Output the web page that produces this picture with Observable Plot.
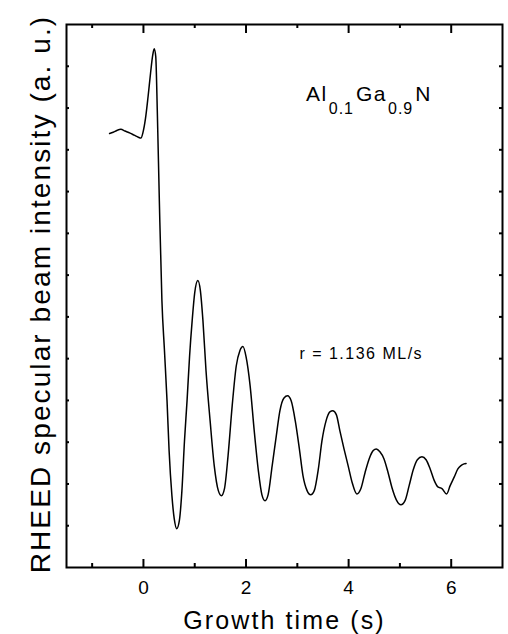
<!DOCTYPE html>
<html>
<head>
<meta charset="utf-8">
<script src="https://cdn.jsdelivr.net/npm/d3@7"></script>
<script src="https://cdn.jsdelivr.net/npm/@observablehq/plot@0.6"></script>
<style>
  html, body { margin: 0; padding: 0; background: #fff; }
</style>
</head>
<body>
<div id="chart"></div>
<script>
// Growth time (s)
const time = [
  -0.66, -0.59, -0.51, -0.44, -0.36, -0.26, -0.18, -0.10, -0.05, -0.01,
  0.04, 0.09, 0.14, 0.18, 0.21, 0.24, 0.27, 0.31, 0.36, 0.41,
  0.46, 0.50, 0.555, 0.60, 0.65, 0.70, 0.75, 0.80, 0.85, 0.90,
  0.95, 1.00, 1.06, 1.11, 1.16, 1.22, 1.30, 1.38, 1.46, 1.52,
  1.58, 1.65, 1.73, 1.81, 1.88, 1.94, 2.00, 2.08, 2.16, 2.24,
  2.31, 2.37, 2.43, 2.51, 2.59, 2.66, 2.74, 2.81, 2.88, 2.96,
  3.04, 3.11, 3.19, 3.26, 3.33, 3.41, 3.48, 3.56, 3.64, 3.69,
  3.76, 3.83, 3.91, 3.99, 4.07, 4.16, 4.24, 4.32, 4.40, 4.48,
  4.54, 4.61, 4.69, 4.77, 4.85, 4.93, 5.02, 5.10, 5.18, 5.26,
  5.34, 5.43, 5.51, 5.59, 5.67, 5.74, 5.82, 5.91, 5.98, 6.06,
  6.13, 6.19, 6.25, 6.29
];
// RHEED specular beam intensity (a. u.)
const intensity = [
  10.39, 10.42, 10.47, 10.49, 10.45, 10.40, 10.35, 10.30, 10.28, 10.41,
  10.75, 11.27, 11.85, 12.26, 12.42, 12.23, 10.94, 8.78, 6.39, 5.19,
  3.99, 2.80, 1.72, 1.17, 0.93, 1.12, 1.84, 3.03, 3.99, 5.07,
  5.91, 6.58, 6.87, 6.63, 5.91, 4.71, 3.51, 2.44, 1.84, 1.72,
  1.89, 2.68, 3.87, 4.83, 5.19, 5.29, 5.05, 4.35, 3.27, 2.32,
  1.74, 1.60, 1.74, 2.44, 3.15, 3.75, 4.06, 4.11, 3.99, 3.51,
  2.84, 2.20, 1.84, 1.74, 1.84, 2.36, 3.03, 3.51, 3.73, 3.75,
  3.66, 3.27, 2.84, 2.44, 2.03, 1.76, 1.89, 2.27, 2.60, 2.80,
  2.84, 2.77, 2.60, 2.27, 1.89, 1.62, 1.50, 1.60, 1.96, 2.34,
  2.58, 2.65, 2.58, 2.36, 2.08, 1.93, 1.89, 1.76, 1.96, 2.17,
  2.36, 2.44, 2.48, 2.49
];

const xMajorTicks = [0, 2, 4, 6];
const xMinorTicks = [-1, 1, 3, 5];
const yTicks = [1, 2, 3, 4, 5, 6, 7, 8, 9, 10, 11, 12];

const xLabel = "Growth time (s)";
const yLabel = "RHEED specular beam intensity (a. u.)";
const sampleLabel = "Al0.1Ga0.9N";
const sampleParts = [
  {text: "Al", sub: false},
  {text: "0.1", sub: true},
  {text: "Ga", sub: false},
  {text: "0.9", sub: true},
  {text: "N", sub: false}
];
const rateLabel = "r = 1.136 ML/s";

const data = time.map((t, i) => ({t, v: intensity[i]}));

const W = 508, H = 634;
const mL = 66, mR = 6, mT = 24, mB = 67;
const plotW = W - mL - mR, plotH = H - mT - mB;
const font = "'Liberation Sans', Arial, Helvetica, sans-serif";

const chart = Plot.plot({
  width: W,
  height: H,
  marginLeft: mL,
  marginRight: mR,
  marginTop: mT,
  marginBottom: mB,
  style: {fontFamily: font, background: "#fff", color: "#000", overflow: "visible"},
  x: {domain: [-1.5, 7]},
  y: {domain: [0, 13], axis: null},
  marks: [
    Plot.tickX(xMajorTicks, {x: d => d, insetTop: plotH - 8, stroke: "#000", strokeWidth: 2}),
    Plot.tickX(xMinorTicks, {x: d => d, insetTop: plotH - 4, stroke: "#000", strokeWidth: 2}),
    Plot.tickX(xMajorTicks, {x: d => d, insetBottom: plotH - 9, stroke: "#000", strokeWidth: 2}),
    Plot.tickX(xMinorTicks, {x: d => d, insetBottom: plotH - 4, stroke: "#000", strokeWidth: 2}),
    Plot.tickY(yTicks, {y: d => d, insetRight: plotW - 3, stroke: "#000", strokeWidth: 2}),
    Plot.tickY(yTicks, {y: d => d, insetLeft: plotW - 3, stroke: "#000", strokeWidth: 2}),
    Plot.axisX({ticks: xMajorTicks, tickSize: 0, tickPadding: 13, fontSize: 19, tickFormat: d => String(d), label: null}),
    Plot.line(data, {x: "t", y: "v", curve: "monotone-x", stroke: "#000", strokeWidth: 1.5}),
    Plot.frame({stroke: "#000", strokeWidth: 2}),
    Plot.text([xLabel], {text: d => d, frameAnchor: "bottom", dy: 61, textAnchor: "middle", lineAnchor: "bottom", fontSize: 25, fill: "#000"}),
    Plot.text([yLabel], {text: d => d, frameAnchor: "left", dx: -17, dy: -2, rotate: -90, textAnchor: "middle", lineAnchor: "bottom", fontSize: 28, fill: "#000"}),
    Plot.text([sampleLabel], {text: d => d, x: 3.17, y: 11.18, textAnchor: "start", lineAnchor: "bottom", fontSize: 21, fill: "#000"}),
    Plot.text([rateLabel], {text: d => d, x: 3.04, y: 4.99, textAnchor: "start", lineAnchor: "bottom", fontSize: 16, fill: "#000"})
  ]
});

const svg = d3.select(chart);
svg.selectAll("text").each(function() {
  const el = d3.select(this);
  const txt = el.text();
  if (txt === xLabel) el.style("letter-spacing", "2.1px");
  if (txt === yLabel) el.style("letter-spacing", "2.1px");
  if (txt === rateLabel) el.style("letter-spacing", "1.5px");
  if (txt === sampleLabel) {
    el.text(null);
    el.style("letter-spacing", "1.5px");
    let prevSub = false;
    sampleParts.forEach((p) => {
      const ts = el.append("tspan").text(p.text);
      if (p.sub && !prevSub) ts.attr("dy", 13).attr("dx", 1);
      else if (!p.sub && prevSub) ts.attr("dy", -13).attr("dx", 2);
      if (p.sub) ts.attr("font-size", 16).style("letter-spacing", "1px");
      prevSub = p.sub;
    });
  }
});

document.getElementById("chart").appendChild(chart);
</script>
</body>
</html>
